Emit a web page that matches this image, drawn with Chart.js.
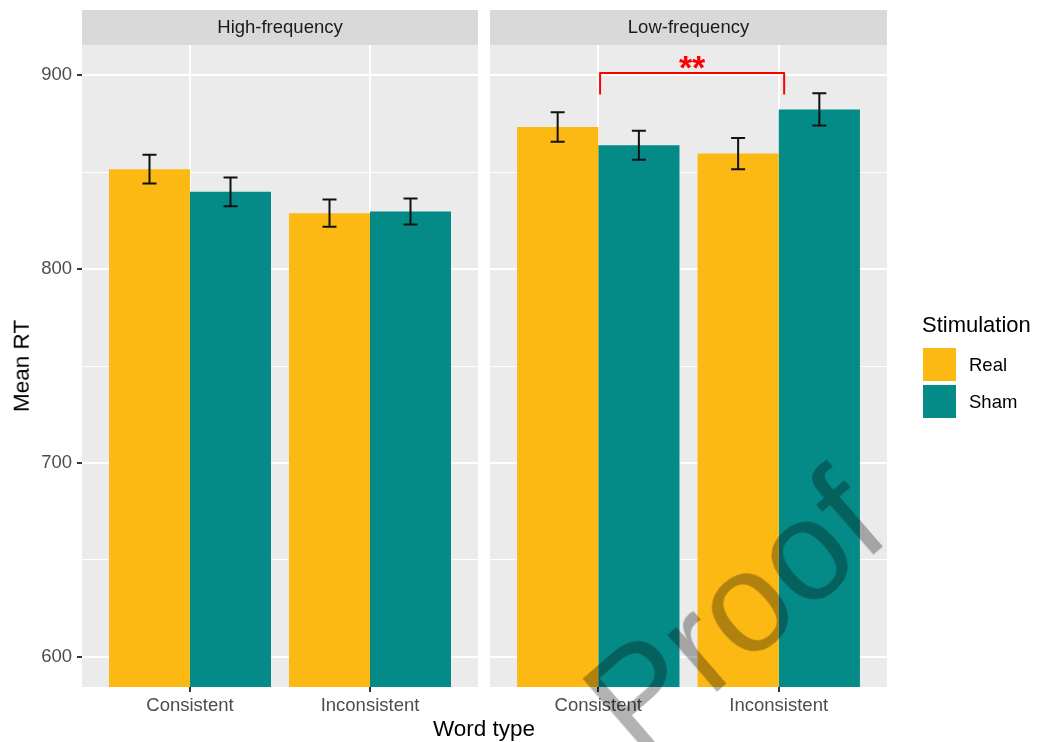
<!DOCTYPE html>
<html>
<head>
<meta charset="utf-8">
<script src="https://cdn.jsdelivr.net/npm/chart.js@4.4.1/dist/chart.umd.min.js"></script>
<style>
  body { margin: 0; background: #fff; width: 1039px; height: 742px; position: relative; overflow: hidden;
         font-family: "Liberation Sans", Arial, sans-serif; }
  canvas { position: absolute; top: 0; }
  #graficaAlta { left: 0; }
  #graficaBaja { left: 484px; }
  .txt { position: absolute; white-space: nowrap; line-height: 1; }
  #ylab { font-size: 22.5px; color: #000; left: 22px; top: 366px; transform: translate(-50%, -50%) rotate(-90deg); }
  #xlab { font-size: 22.5px; color: #000; left: 484px; top: 729px; transform: translate(-50%, -50%); }
  #legTitle { font-size: 22px; color: #000; left: 922px; top: 314px; }
  .key { position: absolute; left: 923px; width: 33px; height: 33px; }
  .keyLab { font-size: 18.5px; color: #000; left: 969px; transform: translateY(-50%); }
  #marca { font-size: 142px; color: rgba(0,0,0,0.3); left: 734px; top: 612px;
           transform: translate(-50%, -50%) rotate(-41deg); }
</style>
</head>
<body>
<canvas id="graficaAlta" width="482" height="742"></canvas>
<canvas id="graficaBaja" width="555" height="742"></canvas>
<div class="txt" id="ylab">Mean RT</div>
<div class="txt" id="xlab">Word type</div>
<div class="txt" id="legTitle">Stimulation</div>
<div class="key" id="keyReal" style="top:348px"></div>
<div class="key" id="keySham" style="top:385px"></div>
<div class="txt keyLab" id="labReal" style="top:365px"></div>
<div class="txt keyLab" id="labSham" style="top:402px"></div>
<div class="txt" id="marca">Proof</div>
<script>
// datos
const paneles = ['High-frequency', 'Low-frequency'];
const tiposPalabra = ['Consistent', 'Inconsistent'];
const estimulacion = ['Real', 'Sham'];

const altaReal = [851.5, 828.8];
const altaSham = [839.8, 829.7];
const altaRealErr = [7.4, 7.0];
const altaShamErr = [7.4, 6.7];

const bajaReal = [873.2, 859.5];
const bajaSham = [863.8, 882.3];
const bajaRealErr = [7.6, 8.0];
const bajaShamErr = [7.5, 8.3];

const ticksMayores = [600, 700, 800, 900];
const ticksMenores = [650, 750, 850];

const colores = ['#FDB913', '#058B87'];
const fuente = '"Liberation Sans", Arial, sans-serif';

document.getElementById('keyReal').style.background = colores[0];
document.getElementById('keySham').style.background = colores[1];
document.getElementById('labReal').textContent = estimulacion[0];
document.getElementById('labSham').textContent = estimulacion[1];

function crearGrafica(id, titulo, real, sham, realErr, shamErr, conEjeY, padDerecha, llave) {
    const errores = [realErr, shamErr];

    const fondoPanel = {
        id: 'fondoPanel',
        beforeDraw(chart) {
            const { ctx, chartArea: a } = chart;
            ctx.save();
            ctx.fillStyle = '#EBEBEB';
            ctx.fillRect(a.left, a.top, a.right - a.left, a.bottom - a.top);
            ctx.fillStyle = '#D9D9D9';
            ctx.fillRect(a.left, 10, a.right - a.left, 35);
            ctx.fillStyle = '#1A1A1A';
            ctx.font = '18.5px ' + fuente;
            ctx.textAlign = 'center';
            ctx.textBaseline = 'middle';
            ctx.fillText(titulo, (a.left + a.right) / 2, 28);
            ctx.restore();
        }
    };

    const barrasError = {
        id: 'barrasError',
        afterDatasetsDraw(chart) {
            const ctx = chart.ctx;
            const y = chart.scales.y;
            ctx.save();
            ctx.strokeStyle = '#111';
            ctx.lineWidth = 2;
            chart.data.datasets.forEach((ds, i) => {
                chart.getDatasetMeta(i).data.forEach((barra, j) => {
                    const v = ds.data[j].y;
                    const e = errores[i][j];
                    const y1 = y.getPixelForValue(v - e);
                    const y2 = y.getPixelForValue(v + e);
                    ctx.beginPath();
                    ctx.moveTo(barra.x, y1); ctx.lineTo(barra.x, y2);
                    ctx.moveTo(barra.x - 7, y1); ctx.lineTo(barra.x + 7, y1);
                    ctx.moveTo(barra.x - 7, y2); ctx.lineTo(barra.x + 7, y2);
                    ctx.stroke();
                });
            });
            ctx.restore();
        }
    };

    const significancia = {
        id: 'significancia',
        afterDatasetsDraw(chart) {
            if (!llave) return;
            const { ctx, scales: { x, y } } = chart;
            const x1 = x.getPixelForValue(llave.desde);
            const x2 = x.getPixelForValue(llave.hasta);
            const yA = y.getPixelForValue(llave.arriba);
            const yB = y.getPixelForValue(llave.abajo);
            ctx.save();
            ctx.strokeStyle = '#FF0000';
            ctx.lineWidth = 2;
            ctx.lineJoin = 'round';
            ctx.beginPath();
            ctx.moveTo(x1, yB); ctx.lineTo(x1, yA); ctx.lineTo(x2, yA); ctx.lineTo(x2, yB);
            ctx.stroke();
            ctx.fillStyle = '#FF0000';
            ctx.font = 'bold 34px ' + fuente;
            ctx.textAlign = 'center';
            ctx.textBaseline = 'alphabetic';
            ctx.fillText(llave.texto, (x1 + x2) / 2, yA + 6);
            ctx.restore();
        }
    };

    return new Chart(document.getElementById(id).getContext('2d'), {
        type: 'bar',
        data: {
            datasets: [real, sham].map((serie, i) => ({
                label: estimulacion[i],
                data: serie.map((v, j) => ({ x: j + 1, y: v })),
                backgroundColor: colores[i],
                borderWidth: 0,
                categoryPercentage: 0.9,
                barPercentage: 1,
                clip: 0
            }))
        },
        options: {
            responsive: false,
            animation: false,
            layout: { padding: { top: 45, left: 0, right: padDerecha, bottom: 0 } },
            plugins: { legend: { display: false }, tooltip: { enabled: false } },
            scales: {
                x: {
                    type: 'linear',
                    min: 0.4,
                    max: 2.6,
                    offset: false,
                    afterBuildTicks: s => { s.ticks = tiposPalabra.map((_, i) => ({ value: i + 1 })); },
                    afterFit: s => { s.height = 55; },
                    ticks: {
                        callback: v => tiposPalabra[v - 1],
                        color: '#4D4D4D',
                        font: { family: fuente, size: 18.5 },
                        padding: 3,
                        autoSkip: false,
                        maxRotation: 0
                    },
                    grid: { offset: false, color: '#FFFFFF', lineWidth: 2, tickColor: '#333333', tickLength: 5 },
                    border: { display: false }
                },
                y: {
                    min: 584.5,
                    max: 915.5,
                    beginAtZero: false,
                    afterBuildTicks: s => {
                        s.ticks = ticksMayores.concat(ticksMenores).sort((a, b) => a - b).map(v => ({ value: v }));
                    },
                    afterFit: s => { s.width = conEjeY ? 82 : 6; },
                    ticks: {
                        display: conEjeY,
                        callback: v => ticksMayores.includes(v) ? String(v) : '',
                        color: '#4D4D4D',
                        font: { family: fuente, size: 18.5 },
                        padding: 5
                    },
                    grid: {
                        color: '#FFFFFF',
                        lineWidth: c => ticksMayores.includes(c.tick.value) ? 2 : 1,
                        tickColor: c => ticksMayores.includes(c.tick.value) ? '#333333' : 'rgba(0,0,0,0)',
                        tickLength: 5,
                        drawTicks: conEjeY
                    },
                    border: { display: false }
                }
            }
        },
        plugins: [fondoPanel, barrasError, significancia]
    });
}

crearGrafica('graficaAlta', paneles[0], altaReal, altaSham, altaRealErr, altaShamErr, true, 4, null);
crearGrafica('graficaBaja', paneles[1], bajaReal, bajaSham, bajaRealErr, bajaShamErr, false, 152,
    { desde: 1.01, hasta: 2.03, arriba: 901, abajo: 890, texto: '**' });
</script>
</body>
</html>
